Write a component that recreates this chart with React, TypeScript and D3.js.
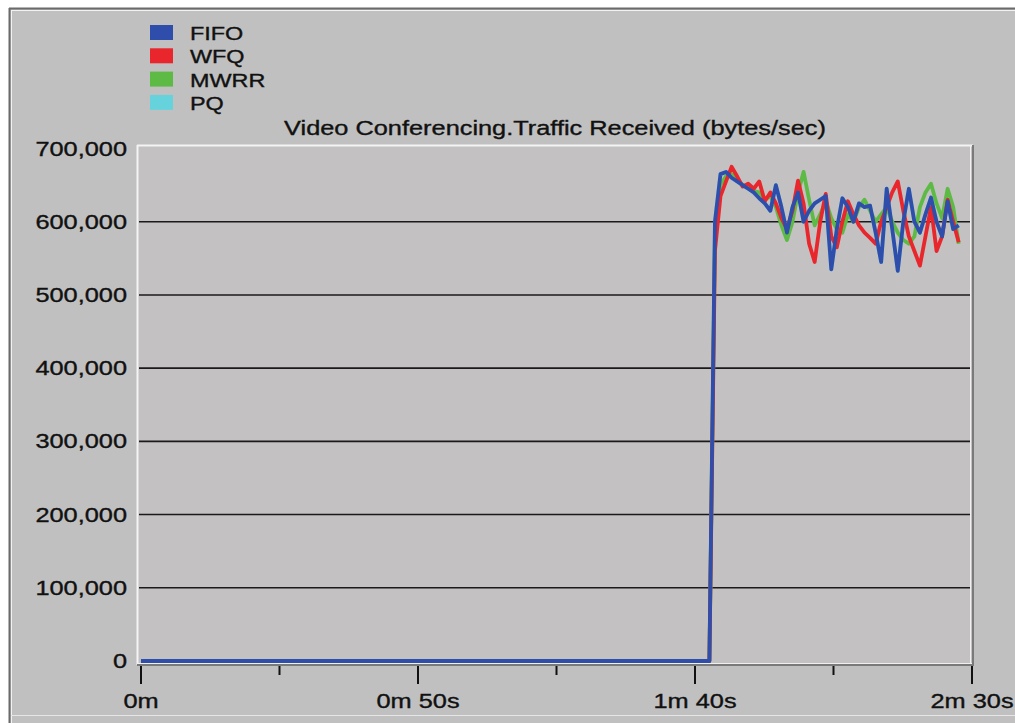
import React from "react";
import * as d3 from "d3";

// ---- data ----
const seriesNames = ["FIFO", "WFQ", "MWRR", "PQ"];
const seriesColors = ["#2f4dab", "#e8262b", "#5dbb45", "#66d3dc"];

// sample times (seconds): start of run, then 1 s samples from the jump onward
const sampleTimes = [0, ...d3.range(102.6, 148, 1)];

const fifo = [
  0, 0, 600000, 665000, 668000, 660000, 655000, 650000, 645000, 640000, 632000,
  625000, 615000, 650000, 620000, 585000, 620000, 640000, 600000, 615000, 625000,
  630000, 635000, 535000, 590000, 632000, 620000, 600000, 625000, 620000, 622000,
  585000, 545000, 645000, 590000, 533000, 600000, 645000, 600000, 585000, 610000,
  633000, 600000, 580000, 628000, 590000, 595000,
];
const wfq = [
  0, 0, 560000, 635000, 655000, 675000, 662000, 648000, 652000, 645000, 655000,
  628000, 640000, 625000, 605000, 590000, 615000, 656000, 625000, 570000, 545000,
  600000, 638000, 580000, 565000, 600000, 628000, 610000, 595000, 585000, 578000,
  570000, 600000, 620000, 640000, 655000, 615000, 580000, 560000, 540000, 580000,
  620000, 560000, 580000, 630000, 600000, 572000,
];
const mwrr = [
  0, 0, 580000, 650000, 662000, 665000, 658000, 650000, 648000, 642000, 640000,
  630000, 635000, 620000, 595000, 575000, 600000, 640000, 668000, 630000, 595000,
  610000, 628000, 605000, 590000, 585000, 610000, 600000, 620000, 630000, 615000,
  600000, 610000, 620000, 600000, 585000, 575000, 570000, 580000, 620000, 640000,
  652000, 625000, 605000, 645000, 620000, 570000,
];
const pq = [
  0, 0, 600000, 665000, 668000, 660000, 655000, 650000, 645000, 640000, 632000,
  625000, 615000, 650000, 620000, 585000, 620000, 640000, 600000, 615000, 625000,
  630000, 635000, 535000, 590000, 632000, 620000, 600000, 625000, 620000, 622000,
  585000, 545000, 645000, 590000, 533000, 600000, 645000, 600000, 585000, 610000,
  633000, 600000, 580000, 628000, 590000, 595000,
];

const yTicks = [0, 100000, 200000, 300000, 400000, 500000, 600000, 700000];
const xMajorTicks = [0, 50, 100, 150];
const xMajorLabels = ["0m", "0m 50s", "1m 40s", "2m 30s"];
const xMinorTicks = [25, 75, 125];
const title = "Video Conferencing.Traffic Received (bytes/sec)";

// ---- layout ----
const W = 1015;
const H = 723;
const plot = { left: 137, top: 145, right: 973, bottom: 665 };
const FONT = "'Liberation Sans', Arial, sans-serif";
const SX = 1.3;

const x = d3.scaleLinear().domain([0, 150]).range([141, 972]);
const y = d3.scaleLinear().domain([0, 700000]).range([661, 148.5]);

function T({ x: tx, y: ty, anchor = "start", size = 19.5, children }: any) {
  return (
    <text
      transform={`translate(${tx},${ty}) scale(${SX},1)`}
      textAnchor={anchor}
      fontFamily={FONT}
      fontSize={size}
      fill="#111"
      stroke="#111"
      strokeWidth={0.35}
    >
      {children}
    </text>
  );
}

export default function App() {
  const allSeries = [fifo, wfq, mwrr, pq];
  const drawOrder = [3, 2, 1, 0];
  const line = d3
    .line<number>()
    .x((_, i) => x(sampleTimes[i]))
    .y((d) => y(d));

  return (
    <svg
      width={W}
      height={H}
      style={{ position: "absolute", left: 0, top: 0, display: "block" }}
    >
      <rect x={0} y={0} width={W} height={H} fill="#ffffff" />
      <rect x={9} y={8} width={W - 9} height={H - 8} fill="#c0c0c0" />
      <line x1={9.5} y1={8} x2={9.5} y2={H} stroke="#6a6a6a" strokeWidth={2} />
      <line x1={9} y1={8.5} x2={W} y2={8.5} stroke="#6a6a6a" strokeWidth={2} />
      <line x1={11.5} y1={10} x2={11.5} y2={H} stroke="#f2f2f2" strokeWidth={1} />
      <line x1={11} y1={10.5} x2={W} y2={10.5} stroke="#f2f2f2" strokeWidth={1} />
      <line x1={11} y1={715.5} x2={W} y2={715.5} stroke="#e6e6e6" strokeWidth={1} />

      {/* plot area */}
      <rect
        x={plot.left}
        y={plot.top}
        width={plot.right - plot.left}
        height={plot.bottom - plot.top}
        fill="#c3c1c1"
      />
      <line x1={plot.left} y1={plot.top + 0.5} x2={plot.right} y2={plot.top + 0.5} stroke="#f4f4f4" strokeWidth={2} />
      <line x1={plot.left + 0.5} y1={plot.top} x2={plot.left + 0.5} y2={plot.bottom} stroke="#f4f4f4" strokeWidth={2} />
      <line x1={plot.left} y1={plot.bottom - 1.5} x2={plot.right} y2={plot.bottom - 1.5} stroke="#f0f0f0" strokeWidth={1} />
      <line x1={plot.right - 2.5} y1={plot.top} x2={plot.right - 2.5} y2={plot.bottom} stroke="#f0f0f0" strokeWidth={1} />
      <line x1={plot.left} y1={plot.bottom} x2={plot.right} y2={plot.bottom} stroke="#7a7a7a" strokeWidth={2} />
      <line x1={plot.right} y1={plot.top} x2={plot.right} y2={plot.bottom + 1} stroke="#7a7a7a" strokeWidth={2} />

      {/* gridlines */}
      {yTicks
        .filter((t) => t > 0 && t < 700000)
        .map((t) => (
          <line key={t} x1={plot.left + 2} x2={plot.right - 3} y1={y(t)} y2={y(t)} stroke="#1a1a1a" strokeWidth={1.6} />
        ))}

      {/* y labels */}
      {yTicks.map((t) => (
        <T key={t} x={127} y={y(t) + 7} anchor="end">
          {d3.format(",")(t)}
        </T>
      ))}

      {/* x ticks */}
      {xMajorTicks.map((t) => (
        <line key={t} x1={x(t)} x2={x(t)} y1={plot.bottom + 1} y2={684} stroke="#111" strokeWidth={2} />
      ))}
      {xMinorTicks.map((t) => (
        <line key={t} x1={x(t)} x2={x(t)} y1={plot.bottom + 1} y2={675} stroke="#111" strokeWidth={2} />
      ))}
      {xMajorTicks.map((t, i) => (
        <T key={t} x={x(t)} y={708} anchor="middle">
          {xMajorLabels[i]}
        </T>
      ))}

      {/* series */}
      {drawOrder.map((si) => (
        <path
          key={seriesNames[si]}
          d={line(allSeries[si]) || ""}
          fill="none"
          stroke={seriesColors[si]}
          strokeWidth={3.8}
          strokeLinejoin="round"
        />
      ))}

      {/* title */}
      <T x={555} y={135} anchor="middle">
        {title}
      </T>

      {/* legend */}
      {seriesNames.map((n, i) => (
        <g key={n}>
          <rect x={150} y={25 + i * 23.3} width={23} height={15} fill={seriesColors[i]} />
          <T x={190} y={40 + i * 23.3} size={18}>
            {n}
          </T>
        </g>
      ))}
    </svg>
  );
}
